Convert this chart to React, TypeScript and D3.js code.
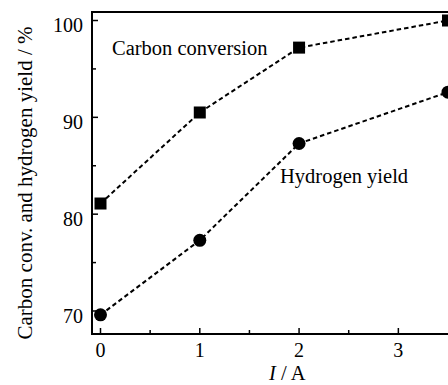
import React from "react";
import * as d3 from "d3";

const currents = [0, 1, 2, 3.5];
const carbonConversion = [81.1, 90.5, 97.2, 100.0];
const hydrogenYield = [69.6, 77.3, 87.3, 92.6];
const xTicks = [0, 1, 2, 3];
const xMinorTicks = [0.5, 1.5, 2.5];
const yTicks = [70, 80, 90, 100];
const yMinorTicks = [75, 85, 95];

const W = 448;
const H = 385;
const left = 92;
const top = 12;
const bottom = 334;
const right = 460;

export default function App() {
  const x = d3.scaleLinear().domain([0, 3.5]).range([100.5, 448]);
  const y = d3.scaleLinear().domain([70, 100]).range([311, 20.5]);
  const line = d3
    .line<number>()
    .x((_, i) => x(currents[i]))
    .y((d) => y(d));
  const font = "'Liberation Serif', 'Times New Roman', serif";
  return (
    <svg
      width={W}
      height={H}
      style={{ position: "absolute", left: 0, top: 0 }}
      fontFamily={font}
    >
      <rect x={0} y={0} width={W} height={H} fill="#fff" />
      {/* frame */}
      <path
        d={`M${right},${top}H${left}V${bottom}H${right}`}
        fill="none"
        stroke="#000"
        strokeWidth={2}
      />
      {/* y ticks */}
      {yTicks.map((t) => (
        <g key={"y" + t}>
          <line x1={left} x2={left + 6} y1={y(t)} y2={y(t)} stroke="#000" strokeWidth={1.5} />
          <text x={83} y={y(t) + 11.5} fontSize={20} textAnchor="end">
            {t}
          </text>
        </g>
      ))}
      {yMinorTicks.map((t) => (
        <line key={"ym" + t} x1={left} x2={left + 4} y1={y(t)} y2={y(t)} stroke="#000" strokeWidth={1.5} />
      ))}
      {/* x ticks */}
      {xTicks.map((t) => (
        <g key={"x" + t}>
          <line x1={x(t)} x2={x(t)} y1={bottom} y2={bottom - 6} stroke="#000" strokeWidth={1.5} />
          <text x={x(t)} y={357} fontSize={20} textAnchor="middle">
            {t}
          </text>
        </g>
      ))}
      {xMinorTicks.map((t) => (
        <line key={"xm" + t} x1={x(t)} x2={x(t)} y1={bottom} y2={bottom - 4} stroke="#000" strokeWidth={1.5} />
      ))}
      {/* axis titles */}
      <text x={269} y={380} fontSize={20.5}>
        <tspan fontStyle="italic">I</tspan>
        <tspan> / A</tspan>
      </text>
      <text
        transform={`translate(32,183) rotate(-90)`}
        fontSize={21}
        textAnchor="middle"
      >
        Carbon conv. and hydrogen yield / %
      </text>
      {/* lines */}
      <path d={line(carbonConversion) || ""} fill="none" stroke="#000" strokeWidth={2} strokeDasharray="4.5,3" />
      <path d={line(hydrogenYield) || ""} fill="none" stroke="#000" strokeWidth={2} strokeDasharray="4.5,3" />
      {carbonConversion.map((v, i) => (
        <rect key={"s" + i} x={x(currents[i]) - 6} y={y(v) - 6} width={12} height={12} fill="#000" />
      ))}
      {hydrogenYield.map((v, i) => (
        <circle key={"c" + i} cx={x(currents[i])} cy={y(v)} r={6.5} fill="#000" />
      ))}
      {/* annotations */}
      <text x={112} y={55} fontSize={20.5}>
        Carbon conversion
      </text>
      <text x={280} y={183} fontSize={20.5}>
        Hydrogen yield
      </text>
    </svg>
  );
}
